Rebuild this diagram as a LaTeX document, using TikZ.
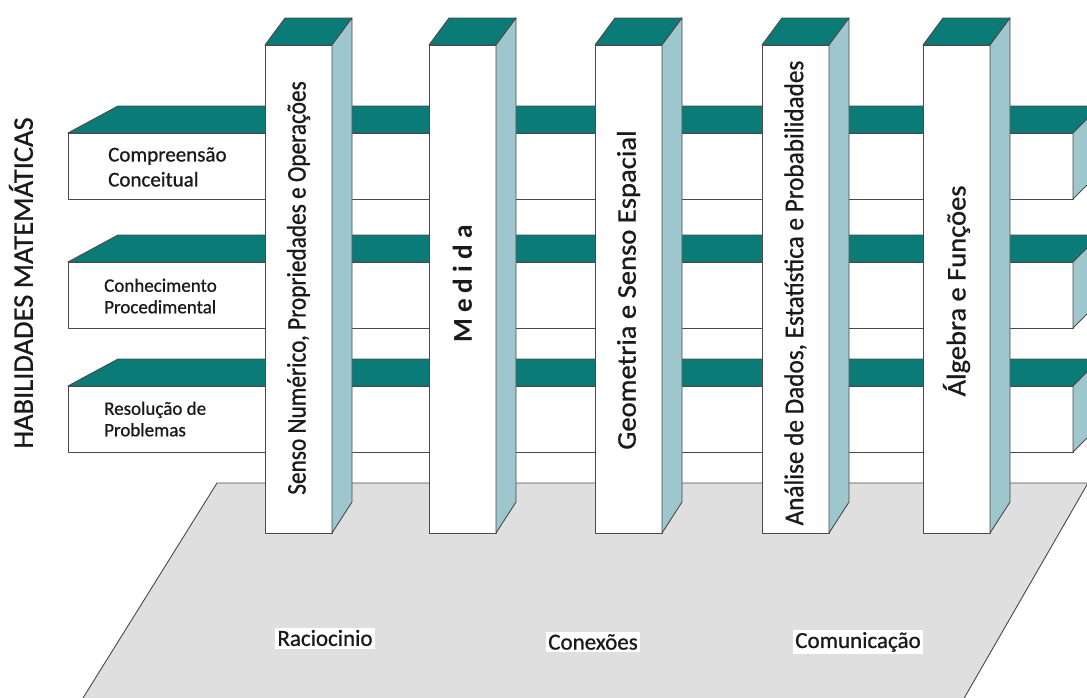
\documentclass[tikz,border=0pt]{standalone}
\usepackage{fontspec}
\setmainfont{Carlito}
\newfontfamily\labelfont{Carlito}[FakeBold=0.8]
\usepackage{graphicx}
\definecolor{tealtop}{HTML}{0B7B78}
\definecolor{sideface}{HTML}{9DC7CD}
\definecolor{floorgray}{HTML}{DFDFDF}
\definecolor{edgegray}{HTML}{4A4A4A}
\definecolor{ink}{HTML}{1A1A1A}
\begin{document}
\begin{tikzpicture}[x=1pt,y=-1pt,line join=round,
  face/.style={draw=edgegray,line width=0.9pt},
  pillartext/.style={rotate=90,inner sep=0pt,text=ink,font=\labelfont\fontsize{27}{30}\selectfont},
  beamtext/.style={anchor=west,align=left,inner sep=0pt,text=ink},
  floorlabel/.style={fill=white,inner sep=2.5pt,text=ink,font=\labelfont\fontsize{23}{26}\selectfont}]
\useasboundingbox (0,0) rectangle (1087,697);
\begin{scope}
  \clip (0,0) rectangle (1087,697);
  % base platform
  \fill[floorgray] (73,714) -- (217,483) -- (1088,483) -- (955,714) -- cycle;
  \draw[edgegray,line width=0.9pt] (73,714) -- (217,483) -- (1088,483) -- (955,714);
  % horizontal beams
  \foreach \y in {133,262,386} {
    \filldraw[fill=white,face] (68,\y) rectangle (1073,\y+66);
    \filldraw[fill=tealtop,face] (68,\y) -- (118,\y-27) -- (1100,\y-27) -- (1073,\y) -- cycle;
    \filldraw[fill=sideface,face] (1073,\y) -- (1100,\y-27) -- (1100,\y+39) -- (1073,\y+66) -- cycle;
  }
  % vertical pillars
  \foreach \x in {265,429,595,762,923} {
    \filldraw[fill=white,face] (\x,45) rectangle (\x+67,533);
    \filldraw[fill=tealtop,face] (\x,45) -- (\x+20,18) -- (\x+87,18) -- (\x+67,45) -- cycle;
    \filldraw[fill=sideface,face] (\x+67,45) -- (\x+87,18) -- (\x+87,502) -- (\x+67,533) -- cycle;
  }
\end{scope}
% axis title
\node[rotate=90,inner sep=0pt,text=ink,font=\labelfont\fontsize{28.5}{31}\selectfont] (title) at (21,283) {HABILIDADES MATEMÁTICAS};
% beam labels
\node[beamtext,font=\labelfont\fontsize{21}{25}\selectfont] (b1) at (108,167) {Compreensão\\Conceitual};
\node[beamtext,font=\labelfont\fontsize{19}{21.5}\selectfont] (b2) at (104,296) {Conhecimento\\Procedimental};
\node[beamtext,font=\labelfont\fontsize{19}{21.5}\selectfont] (b3) at (104,419) {Resolução de\\Problemas};
% pillar labels
\node[pillartext] (p1) at (298.5,288) {\scalebox{0.863}[1]{Senso Numérico, Propriedades e Operações}};
\node[pillartext,font=\bfseries\fontsize{27.3}{30}\selectfont] (p2) at (462.5,284) {M e d i d a};
\node[pillartext] (p3) at (628.5,290) {\scalebox{1.06}[1]{Geometria e Senso Espacial}};
\node[pillartext] (p4) at (795.5,293) {\scalebox{0.934}[1]{Análise de Dados, Estatística e Probabilidades}};
\node[pillartext] (p5) at (956.5,291) {\scalebox{1.057}[1]{Álgebra e Funções}};
% platform labels
\node[floorlabel] (l1) at (325,638) {Raciocinio};
\node[floorlabel] (l2) at (593,642) {Conexões};
\node[floorlabel] (l3) at (858,642) {Comunicação};
\end{tikzpicture}
\end{document}
